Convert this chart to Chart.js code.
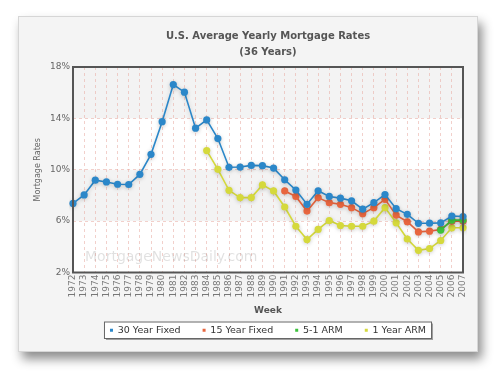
<!DOCTYPE html>
<html>
<head>
<meta charset="utf-8">
<script src="https://cdn.jsdelivr.net/npm/chart.js@4.4.1/dist/chart.umd.min.js"></script>
<style>
  html, body { margin: 0; padding: 0; background: #fff; }
  #wrap { position: relative; width: 500px; height: 372px; }
  #card {
    position: absolute; left: 18px; top: 16px; width: 458px; height: 334px;
    background: #f4f4f4; border: 1px solid #d6d6d6;
    box-shadow: 4px 7px 10px rgba(0,0,0,0.45);
  }
  #box { position: absolute; left: 0; top: 0; width: 500px; height: 372px; }
</style>
</head>
<body>
<div id="wrap">
  <div id="card"></div>
  <div id="box"><canvas id="chart"></canvas></div>
</div>
<script>
// categories
var years = ['1972','1973','1974','1975','1976','1977','1978','1979','1980','1981','1982','1983',
  '1984','1985','1986','1987','1988','1989','1990','1991','1992','1993','1994','1995',
  '1996','1997','1998','1999','2000','2001','2002','2003','2004','2005','2006','2007'];

// series values (percent)
var fixed30 = [7.38, 8.04, 9.19, 9.05, 8.87, 8.85, 9.64, 11.20, 13.74, 16.63, 16.04, 13.24,
  13.88, 12.43, 10.19, 10.21, 10.34, 10.32, 10.13, 9.22, 8.42, 7.31, 8.36, 7.92,
  7.79, 7.58, 6.93, 7.44, 8.07, 6.97, 6.53, 5.83, 5.84, 5.86, 6.40, 6.36];
var fixed15 = [null, null, null, null, null, null, null, null, null, null, null, null,
  null, null, null, null, null, null, null, 8.35, 7.92, 6.78, 7.83, 7.44,
  7.31, 7.05, 6.58, 7.05, 7.70, 6.47, 5.95, 5.16, 5.22, 5.35, 6.00, 6.00];
var arm51 = [null, null, null, null, null, null, null, null, null, null, null, null,
  null, null, null, null, null, null, null, null, null, null, null, null,
  null, null, null, null, null, null, null, null, null, 5.30, 6.08, 6.08];
var arm1 = [null, null, null, null, null, null, null, null, null, null, null, null,
  11.49, 10.03, 8.40, 7.83, 7.83, 8.82, 8.35, 7.10, 5.60, 4.56, 5.35, 6.05,
  5.66, 5.60, 5.60, 6.00, 7.05, 5.87, 4.61, 3.73, 3.86, 4.49, 5.48, 5.48];

// y tick values
var yTicks = [2, 6, 10, 14, 18];

var seriesNames = ['30 Year Fixed', '15 Year Fixed', '5-1 ARM', '1 Year ARM'];
var seriesColors = ['#2b87c9', '#e8663f', '#3cc23c', '#d5d93c'];
var drawOrder = [0, 2, 1, 3]; // green drawn over orange

var gridPink = 'rgba(232,170,160,0.55)';
var fontFam = '"DejaVu Sans", sans-serif';

function makeSet(i, values) {
  return {
    label: seriesNames[i],
    data: values,
    order: drawOrder[i],
    borderColor: seriesColors[i],
    backgroundColor: seriesColors[i],
    borderWidth: 1.6,
    pointRadius: 3.6,
    pointHoverRadius: 4,
    pointBorderWidth: 0,
    tension: 0,
    spanGaps: false
  };
}

// bands, watermark, frame and legend box
var decor = {
  id: 'decor',
  afterLayout: function(chart) {
    // center title and legend over the plot area
    var a = chart.chartArea, mid = (a.left + a.right) / 2;
    [chart.titleBlock, chart.legend].forEach(function(b) {
      if (!b) return;
      var shift = mid - (b.left + b.right) / 2;
      b.left += shift;
      b.right += shift;
    });
  },
  beforeDraw: function(chart) {
    var ctx = chart.ctx, a = chart.chartArea, y = chart.scales.y;
    ctx.save();
    ctx.fillStyle = '#fff';
    ctx.fillRect(a.left, a.top, a.right - a.left, a.bottom - a.top);
    ctx.fillStyle = '#f3f3f3';
    [[14, 18], [6, 10]].forEach(function(b) {
      var t = y.getPixelForValue(b[1]), btm = y.getPixelForValue(b[0]);
      ctx.fillRect(a.left, t, a.right - a.left, btm - t);
    });
    // legend frame
    var hb = chart.legend.legendHitBoxes;
    if (hb && hb.length) {
      var l = hb[0].left - 6, r = hb[hb.length - 1].left + hb[hb.length - 1].width + 5;
      var t2 = hb[0].top - 4, h = hb[0].height + 7;
      ctx.fillStyle = 'rgba(0,0,0,0.35)';
      ctx.fillRect(l + 2, t2 + 2, r - l, h);
      ctx.fillStyle = '#fff';
      ctx.fillRect(l, t2, r - l, h);
      ctx.strokeStyle = '#666';
      ctx.lineWidth = 1;
      ctx.strokeRect(l + 0.5, t2 + 0.5, r - l, h);
    }
    ctx.restore();
  },
  beforeDatasetsDraw: function(chart) {
    var ctx = chart.ctx, a = chart.chartArea;
    ctx.save();
    ctx.font = '14px ' + fontFam;
    ctx.fillStyle = 'rgba(0,0,0,0.12)';
    ctx.textBaseline = 'middle';
    ctx.fillText('MortgageNewsDaily.com', a.left + 12, a.bottom - 15);
    ctx.restore();
  },
  beforeDatasetDraw: function(chart) {
    chart.ctx.save();
    chart.ctx.shadowColor = 'rgba(0,0,0,0.18)';
    chart.ctx.shadowBlur = 4;
    chart.ctx.shadowOffsetY = 1;
  },
  afterDatasetDraw: function(chart) {
    chart.ctx.restore();
  },
  afterDraw: function(chart) {
    var ctx = chart.ctx, a = chart.chartArea;
    ctx.save();
    ctx.strokeStyle = '#555';
    ctx.lineWidth = 2;
    ctx.strokeRect(a.left, a.top, a.right - a.left, a.bottom - a.top);
    ctx.restore();
  }
};

var ctx1 = document.getElementById('chart');

var chart1 = new Chart(ctx1, {
  type: 'line',
  data: {
    labels: years,
    datasets: [makeSet(0, fixed30), makeSet(1, fixed15), makeSet(2, arm51), makeSet(3, arm1)]
  },
  options: {
    responsive: true,
    maintainAspectRatio: false,
    animation: false,
    layout: { padding: { left: 28, right: 37, top: 0, bottom: 27 } },
    plugins: {
      title: {
        display: true,
        text: ['U.S. Average Yearly Mortgage Rates', '(36 Years)'],
        color: '#555',
        font: { family: fontFam, size: 10, weight: 'bold', lineHeight: 1.6 },
        padding: { top: 28, bottom: 7 }
      },
      legend: {
        position: 'bottom',
        labels: {
          usePointStyle: true,
          pointStyle: 'rect',
          boxWidth: 3,
          boxHeight: 3,
          padding: 22,
          color: '#333',
          font: { family: fontFam, size: 9.5 },
          sort: function(a, b) { return a.datasetIndex - b.datasetIndex; }
        }
      },
      tooltip: { enabled: false }
    },
    scales: {
      x: {
        offset: false,
        grid: { color: gridPink, lineWidth: 1, tickLength: 0 },
        border: { display: false, dash: [3, 3] },
        ticks: {
          autoSkip: false, maxRotation: 90, minRotation: 90, padding: 2,
          color: '#777',
          font: { family: fontFam, size: 9 }
        },
        title: {
          display: true, text: 'Week', color: '#555',
          font: { family: fontFam, size: 9, weight: 'bold' },
          padding: { top: 0, bottom: -13 }
        },
        afterFit: function(scale) { scale.height = 31; }
      },
      y: {
        min: 2, max: 18,
        afterBuildTicks: function(scale) {
          scale.ticks = yTicks.map(function(v) { return { value: v }; });
        },
        grid: { color: gridPink, lineWidth: 1, tickLength: 0 },
        border: { display: false, dash: [3, 3] },
        ticks: {
          padding: 3,
          color: '#666',
          font: { family: fontFam, size: 9 },
          callback: function(v) { return v + '%'; }
        },
        title: {
          display: true, text: 'Mortgage Rates', color: '#666',
          font: { family: fontFam, size: 8 },
          padding: { top: 5, bottom: 0 }
        },
        afterFit: function(scale) { scale.width = 45; }
      }
    }
  },
  plugins: [decor]
});
</script>
</body>
</html>
